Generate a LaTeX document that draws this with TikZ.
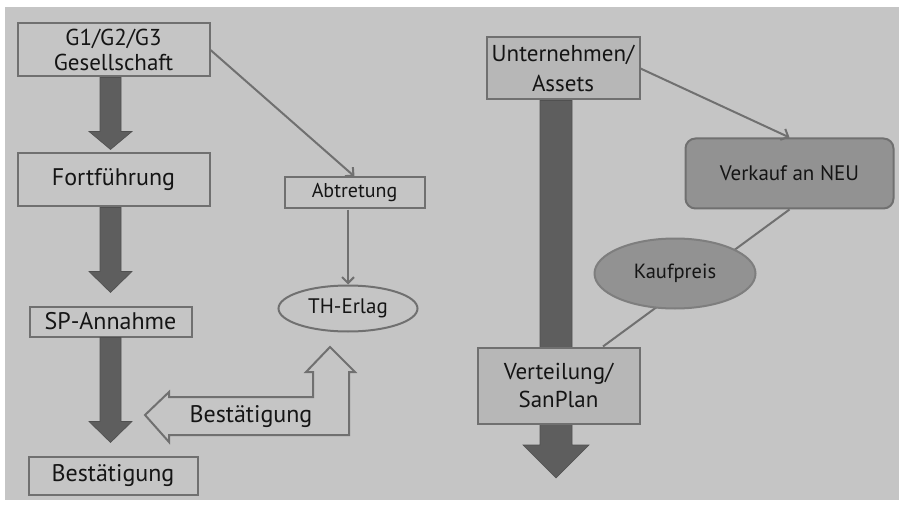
\documentclass[tikz,border=0pt]{standalone}
\usepackage{fontspec}
\setmainfont{PT Sans}
\usetikzlibrary{calc,arrows.meta,shapes.geometric}
\definecolor{bg}{HTML}{C5C5C5}
\definecolor{edge}{HTML}{707070}
\definecolor{fatc}{HTML}{5E5E5E}
\definecolor{ink}{HTML}{151515}
\definecolor{boxlight}{HTML}{B7B7B7}
\definecolor{boxdark}{HTML}{929292}
\newcommand{\fsz}[2]{\fontsize{#1}{#2}\selectfont}
\tikzset{
  box/.style={draw=edge, line width=2pt, fill=bg, inner sep=0pt, align=center, text=ink},
  thinarrow/.style={draw=edge, line width=2pt, -{Straight Barb[length=6pt,width=12pt,line width=2pt]}},
  thinline/.style={draw=edge, line width=2pt},
  fatarrow/.style={fill=fatc, draw=fatc!85!black, line width=0.6pt},
}
\begin{document}
\begin{tikzpicture}[x=1pt,y=-1pt]
\useasboundingbox (0,0) rectangle (899,505);
\fill[white] (0,0) rectangle (899,505);
\fill[bg] (5,7) rectangle (899,500);

% ---------- left column ----------
\node[box, minimum width=192pt, minimum height=53pt, font=\fsz{23}{25}] (g1) at (113.5,50) {G1/G2/G3\\Gesellschaft};
\node[box, minimum width=192pt, minimum height=53pt, font=\fsz{24}{28}] (fort) at (113.5,180) {Fortführung};
\node[box, minimum width=162pt, minimum height=30pt, font=\fsz{24}{28}] (spa) at (110.5,321.5) {SP-Annahme};
\node[box, minimum width=169pt, minimum height=38pt, font=\fsz{24}{28}] (best) at (113,475.5) {Bestätigung};

% fat down arrows
\fill[fatarrow] let \p1=(spa.center), \p2=(g1.south), \p3=(fort.north) in
  (\x1-10.5pt,\y2) -- (\x1+10.5pt,\y2) -- (\x1+10.5pt,\y3+21pt) -- (\x1+21.5pt,\y3+21pt)
  -- (\x1,\y3+3pt) -- (\x1-21.5pt,\y3+21pt) -- (\x1-10.5pt,\y3+21pt) -- cycle;
\fill[fatarrow] let \p1=(spa.center), \p2=(fort.south), \p3=(spa.north) in
  (\x1-10.5pt,\y2) -- (\x1+10.5pt,\y2) -- (\x1+10.5pt,\y3+34pt) -- (\x1+21.5pt,\y3+34pt)
  -- (\x1,\y3+13pt) -- (\x1-21.5pt,\y3+34pt) -- (\x1-10.5pt,\y3+34pt) -- cycle;
\fill[fatarrow] let \p1=(spa.center), \p2=(spa.south), \p3=(best.north) in
  (\x1-10.5pt,\y2) -- (\x1+10.5pt,\y2) -- (\x1+10.5pt,\y3+34pt) -- (\x1+21.5pt,\y3+34pt)
  -- (\x1,\y3+13pt) -- (\x1-21.5pt,\y3+34pt) -- (\x1-10.5pt,\y3+34pt) -- cycle;

% Abtretung and TH-Erlag
\node[box, minimum width=140pt, minimum height=31pt, font=\fsz{20}{24}] (abtr) at (354.5,193) {Abtretung};
\node[box, ellipse, minimum width=139pt, minimum height=46pt, font=\fsz{21}{25}] (th) at (348,308.5) {TH-Erlag};
\draw[thinarrow] (g1.east) -- (abtr.north);
\draw[thinarrow] (th.north |- abtr.south) -- (th.north);

% bent hollow arrow
\draw[draw=edge, line width=2pt, fill=bg, line join=miter]
  (145,415) -- (169,392) -- (169,397) -- (313,397) -- (313,372) -- (306,372) -- (330,347)
  -- (355,372) -- (349,372) -- (349,435) -- (169,435) -- (169,442) -- cycle;
\node[font=\fsz{24}{28}, text=ink, inner sep=0pt] (bestlbl) at (251,417) {Bestätigung};

% ---------- right side ----------
\node[box, fill=boxlight, minimum width=153pt, minimum height=62pt, font=\fsz{23}{30}] (unt) at (563,68.5) {Unternehmen/\\Assets};
\coordinate (bigtip) at (556,478);
\fill[fatarrow] let \p1=(bigtip), \p2=(unt.south) in
  (\x1-16pt,\y2) -- (\x1+16pt,\y2) -- (\x1+16pt,\y1+33pt) -- (\x1+33pt,\y1+33pt)
  -- (\x1,\y1) -- (\x1-33pt,\y1+33pt) -- (\x1-16pt,\y1+33pt) -- cycle;
\node[box, fill=boxlight, minimum width=162pt, minimum height=76pt, font=\fsz{23}{28}] (vert) at (558.5,385.5) {Verteilung/\\SanPlan};

\node[box, fill=boxdark, rounded corners=10pt, minimum width=208pt, minimum height=70pt, font=\fsz{21}{25}] (verk) at (789.5,173.5) {Verkauf an NEU};
\draw[thinarrow] (unt.east) -- (verk.north);
\coordinate (vin) at ($(vert.north)+(44.5,0)$);
\draw[thinline] (verk.south) -- (vin);
\node[box, ellipse, fill=boxdark, draw=edge!90!white, minimum width=161pt, minimum height=70pt, font=\fsz{20.5}{25}] (kauf) at (675,273.5) {Kaufpreis};
\end{tikzpicture}
\end{document}
